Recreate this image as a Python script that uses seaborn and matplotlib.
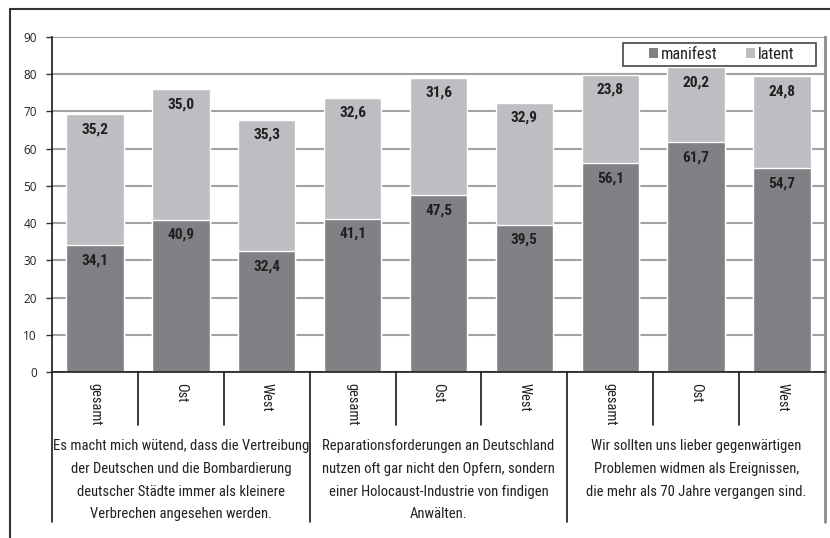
import os
import matplotlib
matplotlib.use("Agg")
import matplotlib.pyplot as plt
from matplotlib import font_manager as fm
import seaborn as sns
import pandas as pd
from matplotlib.lines import Line2D
from matplotlib.patches import Patch, Rectangle
from matplotlib.font_manager import FontProperties

# ---- data ----
sub_labels = ["gesamt", "Ost", "West", "gesamt", "Ost", "West", "gesamt", "Ost", "West"]
group_labels = [
    ["Es macht mich wütend, dass die Vertreibung", "der Deutschen und die Bombardierung",
     "deutscher Städte immer als kleinere", "Verbrechen angesehen werden."],
    ["Reparationsforderungen an Deutschland", "nutzen oft gar nicht den Opfern, sondern",
     "einer Holocaust-Industrie von findigen", "Anwälten."],
    ["Wir sollten uns lieber gegenwärtigen", "Problemen widmen als Ereignissen,",
     "die mehr als 70 Jahre vergangen sind."],
]
series_names = ["manifest", "latent"]
manifest = [34.1, 40.9, 32.4, 41.1, 47.5, 39.5, 56.1, 61.7, 54.7]
latent = [35.2, 35.0, 35.3, 32.6, 31.6, 32.9, 23.8, 20.2, 24.8]
yticks = [0, 10, 20, 30, 40, 50, 60, 70, 80, 90]

C_MAN = "#818185"
C_LAT = "#bdbec2"
C_TXT = "#231f20"
C_GRID = "#a2a2a2"

sns.set_theme(style="white")
plt.rcParams["font.family"] = ["DejaVu Sans"]


def find_font(prefs):
    files = {os.path.basename(f.fname).lower(): f.fname for f in fm.fontManager.ttflist}
    for p in prefs:
        for name, path in files.items():
            if name.startswith(p.lower()):
                return path
    return None


reg_path = find_font(["LiberationSansNarrow-Regular", "NotoSans-Condensed.",
                      "NotoSans-CondensedRegular", "RobotoCondensed-Regular",
                      "OpenSans_Condensed-Regular", "OpenSans-CondensedRegular",
                      "DejaVuSansCondensed."])
bold_path = find_font(["LiberationSansNarrow-Bold.", "NotoSans-CondensedBold.",
                       "RobotoCondensed-Bold.", "OpenSans_Condensed-Bold.",
                       "OpenSans-CondensedBold.", "DejaVuSansCondensed-Bold."])
FP_REG = FontProperties(fname=reg_path) if reg_path else FontProperties(family="DejaVu Sans")
FP_BOLD = FontProperties(fname=bold_path) if bold_path else FontProperties(family="DejaVu Sans", weight="bold")
FP_TICK = FontProperties(family=["Open Sans", "DejaVu Sans"])

df = pd.DataFrame({
    "pos": list(range(len(manifest))),
    "manifest": manifest,
    "latent": latent,
})
df["total"] = df["manifest"] + df["latent"]

W, H = 830, 538
X0, X1, Y_TOP, Y_BOT = 52, 825, 37, 372
PW, PH = X1 - X0, Y_BOT - Y_TOP
fig = plt.figure(figsize=(W / 100, H / 100), dpi=100)
ax = fig.add_axes([X0 / W, 1 - Y_BOT / H, PW / W, PH / H])


def ay(py):
    """pixel row (from top) -> axes y fraction"""
    return (Y_BOT - py) / PH


def axx(px):
    return (px - X0) / PW


sns.barplot(data=df, x="pos", y="total", color=C_LAT, saturation=1, width=0.67,
            ax=ax, zorder=3)
sns.barplot(data=df, x="pos", y="manifest", color=C_MAN, saturation=1, width=0.67,
            ax=ax, zorder=3)

ax.set_ylim(0, 90)
ax.set_xlim(-0.5, len(manifest) - 0.5)
ax.set_yticks(yticks)
ax.set_yticklabels([str(t) for t in yticks], fontproperties=FP_TICK, color=C_TXT)
ax.tick_params(axis="y", direction="out", length=4, width=1, color="#333333", pad=7, left=True)
ax.set_xticks([])
ax.set_xlabel("")
ax.set_ylabel("")
ax.yaxis.grid(True, color=C_GRID, linewidth=1.5, zorder=0)
ax.set_axisbelow(True)

ax.spines["top"].set_visible(False)
ax.spines["left"].set_color("#1a1a1a")
ax.spines["left"].set_linewidth(1.2)
ax.spines["bottom"].set_color("#1a1a1a")
ax.spines["bottom"].set_linewidth(1.2)
ax.spines["bottom"].set_zorder(4)
ax.spines["right"].set_color("#8c8c8c")
ax.spines["right"].set_linewidth(2)

# value labels
val_texts = []
for i, (m, l) in enumerate(zip(manifest, latent)):
    for val, top in ((m, m), (l, m + l)):
        t = ax.annotate(f"{val:.1f}".replace(".", ","), (i, top), xytext=(0, -15),
                        textcoords="offset pixels", ha="center", va="center",
                        fontproperties=FP_BOLD, color=C_TXT, zorder=5)
        val_texts.append(t)

# category axis below
trans = ax.get_xaxis_transform()
inner_bottom = ay(425)
outer_bottom = ay(522)
n = len(manifest)
for b in range(n + 1):
    xb = b - 0.5
    if b % 3 == 0:
        col = "#1a1a1a" if b < n else "#8c8c8c"
        lw = 1.2 if b < n else 2
        ax.plot([xb, xb], [0, outer_bottom], transform=trans, color=col, lw=lw,
                clip_on=False, zorder=4)
    else:
        ax.plot([xb, xb], [0, inner_bottom], transform=trans, color="#1a1a1a", lw=1.2,
                clip_on=False, zorder=4)

sub_texts = []
for i, lab in enumerate(sub_labels):
    t = ax.text(i, ay(383), lab, transform=trans, rotation=270,
                ha="center", va="top", fontproperties=FP_REG, color=C_TXT)
    sub_texts.append(t)

grp_texts = []
BASE0, PITCH = 450, 22.8
for g, lines in enumerate(group_labels):
    for k, line in enumerate(lines):
        t = ax.text(g * 3 + 1, ay(BASE0 + k * PITCH), line, transform=trans,
                    ha="center", va="baseline", fontproperties=FP_REG, color=C_TXT)
        grp_texts.append(t)

# --- fit font sizes to the reference's measured text widths ---
renderer = fig.canvas.get_renderer()


def fit_size(text_obj, target_px, base=12.0):
    text_obj.set_fontsize(base)
    bb = text_obj.get_window_extent(renderer=renderer)
    return base * target_px / bb.width


probe = fig.text(0, 0, "Es macht mich wütend, dass die Vertreibung", fontproperties=FP_REG)
grp_size = min(fit_size(probe, 254), 13)
probe.set_text("gesamt")
sub_size = min(fit_size(probe, 42), 12)
probe.set_fontproperties(FP_BOLD)
probe.set_text("35,2")
val_size = min(fit_size(probe, 27), 11.5)
probe.set_fontproperties(FP_REG)
probe.set_text("manifest")
leg_size = min(fit_size(probe, 57), 12)
probe.set_fontproperties(FP_TICK)
probe.set_text("90")
tick_size = min(fit_size(probe, 13.5), 9.5)
probe.remove()

for t in grp_texts:
    t.set_fontsize(grp_size)
for t in sub_texts:
    t.set_fontsize(sub_size)
for t in val_texts:
    t.set_fontsize(val_size)
for t in ax.get_yticklabels():
    t.set_fontsize(tick_size)

# legend (frame drawn as its own box, like the reference's wide legend box)
fs_px = leg_size * 100 / 72
handles = [Patch(facecolor=C_MAN, edgecolor="none", label=series_names[0]),
           Patch(facecolor=C_LAT, edgecolor="none", label=series_names[1])]
leg_fp = FP_REG.copy()
leg_fp.set_size(leg_size)
leg = ax.legend(handles=handles, loc="center left", ncol=2, frameon=False,
                bbox_to_anchor=(axx(649), ay(54)), prop=leg_fp,
                handlelength=9 / fs_px, handleheight=9 / fs_px,
                handletextpad=3 / fs_px, columnspacing=28 / fs_px,
                borderpad=0, borderaxespad=0)
for t in leg.get_texts():
    t.set_color(C_TXT)
ax.add_patch(Rectangle((axx(623), ay(65.5)), axx(816) - axx(623), ay(42.5) - ay(65.5),
                       transform=ax.transAxes, facecolor="white", edgecolor="#555555",
                       linewidth=1.3, zorder=6))
leg.set_zorder(7)

# outer frame
fig.add_artist(Line2D([10 / W, 1], [1 - 9 / H, 1 - 9 / H], color="#333333", lw=1.5))
fig.add_artist(Line2D([10 / W, 10 / W], [0, 1 - 9 / H], color="#333333", lw=1.5))

fig.savefig("out.png", dpi=100)
